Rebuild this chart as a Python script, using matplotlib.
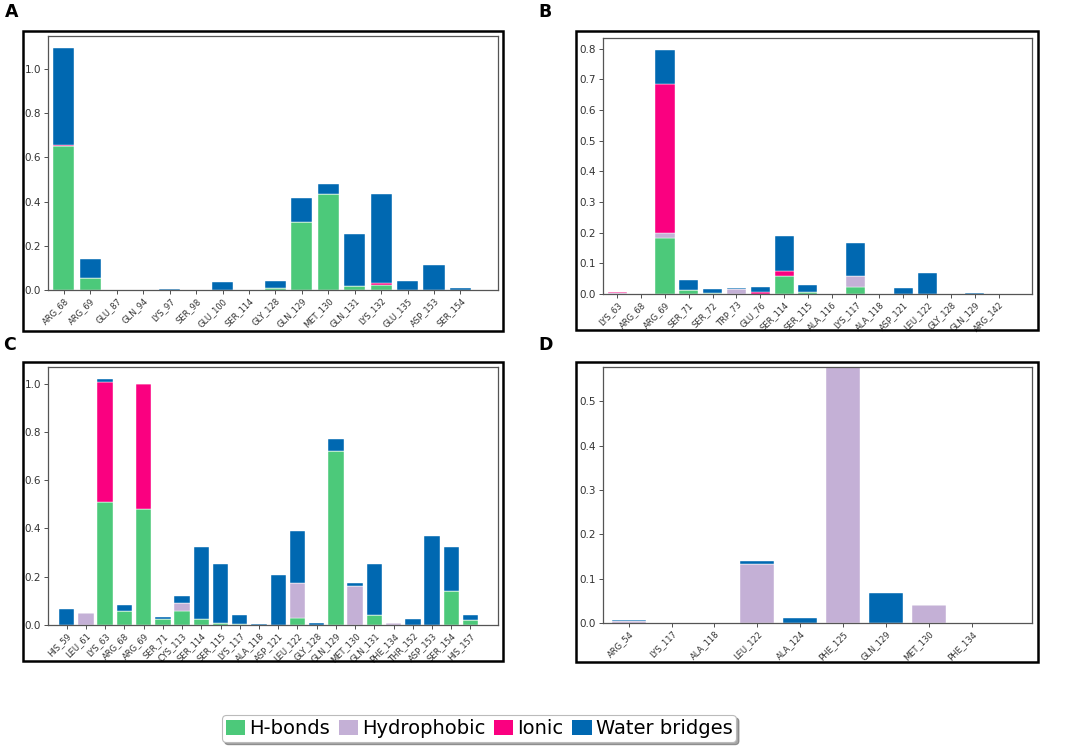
import matplotlib
matplotlib.use("Agg")
import matplotlib.pyplot as plt
import numpy as np
from matplotlib.patches import Rectangle, Patch

# ---- Data ----
resA = ["ARG_68", "ARG_69", "GLU_87", "GLN_94", "LYS_97", "SER_98", "GLU_100", "SER_114",
        "GLY_128", "GLN_129", "MET_130", "GLN_131", "LYS_132", "GLU_135", "ASP_153", "SER_154"]
hbA = [0.650, 0.053, 0, 0, 0, 0, 0, 0, 0.008, 0.310, 0.434, 0.018, 0.023, 0, 0, 0]
hyA = [0.002, 0, 0, 0, 0, 0, 0, 0, 0, 0, 0, 0, 0, 0, 0, 0]
ioA = [0.006, 0, 0, 0, 0, 0, 0, 0, 0, 0, 0, 0, 0.007, 0, 0, 0]
wbA = [0.437, 0.089, 0, 0.001, 0.003, 0, 0.038, 0, 0.034, 0.108, 0.045, 0.236, 0.405, 0.042, 0.115, 0.009]

resB = ["LYS_63", "ARG_68", "ARG_69", "SER_71", "SER_72", "TRP_73", "GLU_76", "SER_114", "SER_115",
        "ALA_116", "LYS_117", "ALA_118", "ASP_121", "LEU_122", "GLY_128", "GLN_129", "ARG_142"]
hbB = [0, 0, 0.184, 0.012, 0.004, 0, 0, 0.060, 0.008, 0, 0.022, 0, 0, 0, 0, 0, 0]
hyB = [0.004, 0, 0.016, 0, 0, 0.016, 0, 0, 0, 0, 0.038, 0, 0, 0, 0, 0, 0]
ioB = [0.001, 0, 0.486, 0, 0, 0, 0.005, 0.015, 0, 0, 0, 0, 0, 0, 0, 0, 0]
wbB = [0, 0, 0.109, 0.034, 0.011, 0.004, 0.017, 0.115, 0.022, 0, 0.107, 0.001, 0.020, 0.070, 0, 0.002, 0]

resC = ["HIS_59", "LEU_61", "LYS_63", "ARG_68", "ARG_69", "SER_71", "CYS_113", "SER_114", "SER_115",
        "LYS_117", "ALA_118", "ASP_121", "LEU_122", "GLY_128", "GLN_129", "MET_130", "GLN_131",
        "PHE_134", "THR_152", "ASP_153", "SER_154", "HIS_157"]
hbC = [0, 0, 0.508, 0.058, 0.480, 0.023, 0.058, 0.023, 0.008, 0.002, 0, 0, 0.030, 0, 0.721, 0, 0.041,
       0, 0, 0, 0.141, 0.021]
hyC = [0, 0.051, 0, 0, 0, 0, 0.032, 0, 0, 0, 0, 0, 0.144, 0, 0, 0.160, 0, 0.010, 0, 0, 0, 0]
ioC = [0, 0, 0.499, 0, 0.520, 0, 0, 0, 0, 0, 0, 0, 0, 0, 0, 0, 0, 0, 0, 0, 0, 0]
wbC = [0.065, 0, 0.011, 0.025, 0, 0.009, 0.031, 0.300, 0.243, 0.038, 0.004, 0.207, 0.215, 0.007,
       0.049, 0.014, 0.211, 0, 0.025, 0.370, 0.182, 0.020]

resD = ["ARG_54", "LYS_117", "ALA_118", "LEU_122", "ALA_124", "PHE_125", "GLN_129", "MET_130", "PHE_134"]
hbD = [0, 0, 0, 0, 0, 0, 0, 0, 0]
hyD = [0.004, 0.001, 0.001, 0.133, 0, 0.600, 0, 0.041, 0.001]
ioD = [0, 0, 0, 0, 0, 0, 0, 0, 0]
wbD = [0.003, 0, 0, 0.006, 0.011, 0, 0.068, 0, 0]

series_names = ["H-bonds", "Hydrophobic", "Ionic", "Water bridges"]
colors = ["#4cc97a", "#c4b0d6", "#fa0080", "#0068b1"]

panels = [
    ("A", resA, [hbA, hyA, ioA, wbA], [0.0451, 0.6128, 0.4225, 0.3391], (-0.6, 0.42), None,
     [0.0, 0.2, 0.4, 0.6, 0.8, 1.0], (23, 31, 503, 331), (5, 17)),
    ("B", resB, [hbB, hyB, ioB, wbB], [0.5662, 0.6075, 0.4028, 0.3418], (-0.6, 0.40), None,
     [0.0, 0.1, 0.2, 0.3, 0.4, 0.5, 0.6, 0.7, 0.8], (576, 31, 1038, 330), (538, 17)),
    ("C", resC, [hbC, hyC, ioC, wbC], [0.0451, 0.1656, 0.4225, 0.3445], (-0.97, 0.43), None,
     [0.0, 0.2, 0.4, 0.6, 0.8, 1.0], (23, 362, 503, 661), (3, 350)),
    ("D", resD, [hbD, hyD, ioD, wbD], [0.5662, 0.1682, 0.4028, 0.3418], (-0.6, 0.41), 0.577,
     [0.0, 0.1, 0.2, 0.3, 0.4, 0.5], (576, 362, 1038, 662), (538, 350)),
]

W, H = 1065, 749
fig = plt.figure(figsize=(W / 100, H / 100), dpi=100)

for label, res, series, pos, xl, ytop, yt, frame, lab in panels:
    # outer frame
    x0, y0, x1, y1 = frame
    fig.patches.append(Rectangle((x0 / W, 1 - y1 / H), (x1 - x0) / W, (y1 - y0) / H,
                                 transform=fig.transFigure, fill=False,
                                 edgecolor="black", linewidth=1.8, zorder=0))
    fig.text(lab[0] / W, 1 - lab[1] / H, label, fontsize=12.5, fontweight="bold",
             family="DejaVu Sans", ha="left", va="baseline")

    ax = fig.add_axes(pos)
    x = np.arange(len(res))
    bottom = np.zeros(len(res))
    for vals, c in zip(series, colors):
        v = np.array(vals, dtype=float)
        ax.bar(x, v, 0.8, bottom=bottom, color=c, edgecolor="white", linewidth=0.3)
        bottom += v
    ax.set_xlim(xl[0], len(res) + xl[1])
    if ytop is None:
        ax.set_ylim(0, bottom.max() * 1.05)
    else:
        ax.set_ylim(0, ytop)
    ax.set_yticks(yt)
    ax.set_yticklabels([f"{t:.1f}" for t in yt])
    ax.set_xticks(x)
    ax.set_xticklabels(res, rotation=45, ha="right", rotation_mode="anchor")
    ax.tick_params(axis="y", labelsize=7.5, length=3, width=0.6, colors="#333333", pad=2)
    ax.tick_params(axis="x", labelsize=6, length=3, width=0.6, colors="#333333", pad=1.5)
    for s in ax.spines.values():
        s.set_color("#555555")
        s.set_linewidth(0.9)

handles = [Patch(facecolor=c, edgecolor="none") for c in colors]
leg = fig.legend(handles, series_names, loc="center", bbox_to_anchor=(479 / W, 1 - 728.5 / H),
                 ncol=4, fontsize=14, frameon=True, shadow=True, handlelength=1.0,
                 handleheight=0.85, handletextpad=0.2, columnspacing=0.45, borderpad=0.2,
                 borderaxespad=0.0, fancybox=True)
leg.get_frame().set_edgecolor("#bbbbbb")
leg.get_frame().set_linewidth(0.8)

fig.savefig("out.png", dpi=100)
